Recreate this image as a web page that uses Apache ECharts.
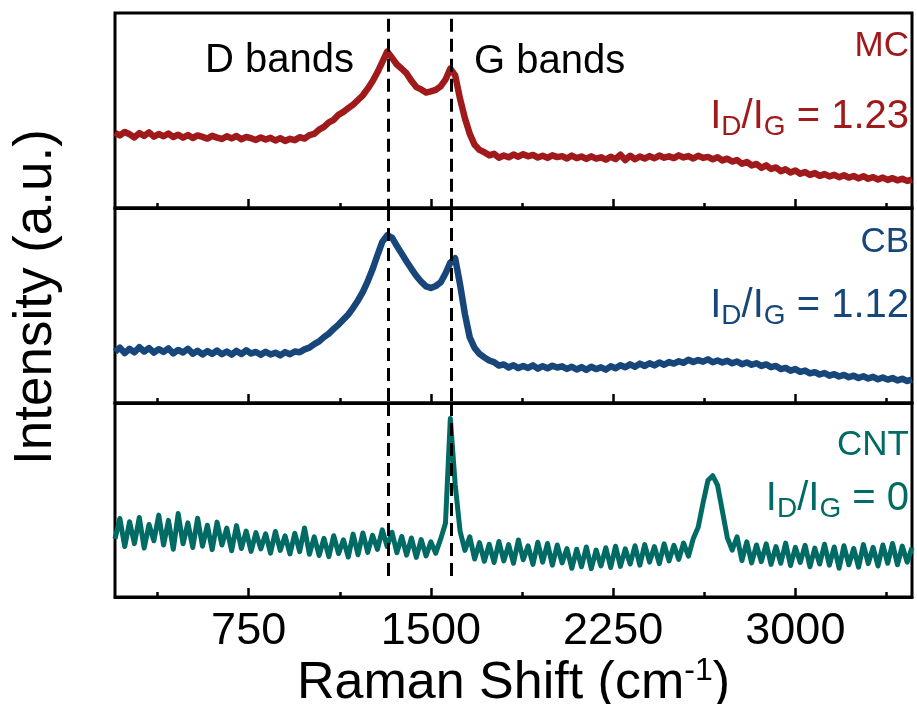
<!DOCTYPE html>
<html><head><meta charset="utf-8">
<script src="https://cdn.jsdelivr.net/npm/echarts@6/dist/echarts.min.js"></script>
<style>html,body{margin:0;padding:0;background:#fff}#c{width:917px;height:704px}</style>
</head><body><div id="c"></div>
<script>
// Raman shift sampling (cm-1)
const shift = [
 200,220,240,260,280,300,320,340,360,380,
 400,420,440,460,480,500,520,540,560,580,
 600,620,640,660,680,700,720,740,760,780,
 800,820,840,860,880,900,920,940,960,980,
 1000,1020,1040,1060,1080,1100,1120,1140,1160,1180,
 1200,1220,1240,1260,1280,1300,1320,1340,1360,1380,
 1400,1420,1440,1460,1480,1500,1520,1540,1560,1580,
 1600,1620,1640,1660,1680,1700,1720,1740,1760,1780,
 1800,1820,1840,1860,1880,1900,1920,1940,1960,1980,
 2000,2020,2040,2060,2080,2100,2120,2140,2160,2180,
 2200,2220,2240,2260,2280,2300,2320,2340,2360,2380,
 2400,2420,2440,2460,2480,2500,2520,2540,2560,2580,
 2600,2620,2640,2660,2680,2700,2720,2740,2760,2780,
 2800,2820,2840,2860,2880,2900,2920,2940,2960,2980,
 3000,3020,3040,3060,3080,3100,3120,3140,3160,3180,
 3200,3220,3240,3260,3280,3300,3320,3340,3360,3380,
 3400,3420,3440,3460,3480
];
// Intensities (a.u.), each panel scaled 0..100
const mc = [
 38.5,37.2,39.0,37.8,36.2,38.4,37.0,38.8,36.6,37.9,
 36.8,38.2,36.4,37.6,36.1,37.4,35.9,37.2,36.5,35.6,
 37.0,36.1,35.4,36.8,35.7,36.9,35.3,36.4,35.8,34.9,
 36.2,35.1,36.0,34.6,35.8,34.4,35.5,34.8,36.3,35.6,
 37.4,38.0,40.2,41.6,43.9,45.2,47.8,49.3,51.2,53.0,
 55.4,57.8,61.2,65.0,69.6,74.8,80.2,77.0,73.6,71.4,
 69.0,65.2,62.0,60.8,59.2,59.8,60.6,62.4,65.8,71.5,
 68.0,56.0,46.0,38.0,32.4,29.8,28.6,27.0,27.8,25.8,
 26.9,26.0,27.4,26.3,27.6,26.5,27.2,25.9,26.8,25.7,
 27.0,26.1,26.6,25.4,26.9,25.6,26.4,25.2,26.5,25.3,
 26.0,24.8,26.3,25.1,27.3,24.6,26.8,25.0,26.4,25.4,
 26.6,25.5,26.9,25.8,26.5,25.6,27.0,25.9,26.6,25.4,
 26.8,25.7,26.2,25.0,26.0,24.4,25.3,23.8,24.6,22.7,
 23.6,21.8,22.6,20.6,21.9,20.0,20.8,18.9,19.8,18.2,
 19.2,17.6,18.4,17.0,17.9,16.5,17.4,16.2,17.0,15.8,
 16.8,15.6,16.4,15.2,16.3,15.0,15.8,14.6,15.6,14.4,
 15.3,14.2,15.0,13.9,14.6
];
const cb = [
 26.3,28.4,25.6,27.8,26.0,28.6,26.4,28.2,25.8,27.6,
 26.2,28.0,25.4,27.2,25.9,27.8,25.3,26.8,24.9,26.6,
 25.2,26.9,25.0,26.4,24.8,26.7,25.1,27.0,25.4,26.2,
 24.7,26.3,24.9,25.8,24.4,26.1,25.0,26.4,26.0,27.5,
 28.4,30.2,31.6,33.8,35.6,38.0,40.2,42.8,45.4,48.8,
 52.6,57.0,62.4,68.6,75.8,82.6,86.0,84.8,80.6,76.6,
 72.6,68.8,65.2,62.2,59.8,59.0,60.0,61.8,66.4,72.0,
 74.2,60.8,45.6,33.6,28.2,25.2,23.4,21.8,21.0,19.2,
 19.8,18.2,19.4,17.9,19.0,18.0,19.3,17.6,18.9,17.8,
 19.1,18.2,18.8,17.5,18.6,17.2,18.4,17.0,18.6,17.4,
 18.3,17.1,18.8,17.8,19.4,18.3,19.8,18.6,20.2,19.0,
 20.4,19.3,20.8,19.6,21.0,20.2,21.4,20.6,22.2,21.0,
 22.0,21.2,22.4,20.9,21.8,20.8,21.6,20.4,21.3,19.9,
 20.8,19.6,20.4,19.0,19.8,18.4,19.0,17.4,18.0,16.6,
 17.4,16.0,16.6,15.2,15.8,14.6,15.4,14.0,14.8,13.6,
 14.4,13.2,14.0,12.8,13.7,12.6,13.4,12.2,13.1,12.0,
 12.8,11.6,12.4,11.3,12.0
];
const cnt = [
 30.0,40.5,26.0,38.8,27.5,41.0,25.2,37.4,29.0,42.2,
 26.8,39.5,24.6,43.0,27.4,38.2,25.5,40.6,26.2,37.0,
 24.4,38.6,26.8,35.5,23.8,36.8,25.0,34.0,23.5,33.2,
 24.8,32.6,22.6,33.8,24.0,31.5,22.2,32.8,23.4,35.6,
 22.0,31.0,21.4,30.2,20.8,31.6,22.4,29.5,20.6,32.4,
 21.8,33.0,23.0,31.8,24.5,34.6,26.0,33.4,22.8,31.2,
 21.6,30.4,20.4,29.6,21.2,28.4,22.6,29.8,38.0,92.0,
 58.0,34.0,24.0,31.0,19.6,28.0,18.4,27.2,17.8,28.6,
 18.6,27.0,17.4,29.4,19.2,26.4,16.8,28.2,18.0,27.6,
 16.4,26.8,17.6,25.0,14.8,24.6,15.6,25.8,14.6,24.2,
 16.0,25.4,15.2,26.2,15.8,24.8,17.0,26.4,16.4,27.0,
 18.0,26.0,17.2,27.4,18.6,26.6,19.4,27.8,21.0,30.2,
 36.0,48.5,60.0,62.5,57.5,44.0,30.5,24.2,31.0,18.8,
 28.4,17.6,26.8,18.2,27.4,16.8,26.0,17.4,27.8,16.2,
 25.6,17.8,26.6,15.6,25.2,17.0,27.2,16.4,25.8,14.8,
 26.4,16.6,25.0,15.4,27.0,17.2,25.6,16.0,26.8,17.4,
 27.6,16.6,26.2,18.0,25.4
];
const bandPositions = [1325, 1585];   // D and G band guide lines
const majorTicks = [750, 1500, 2250, 3000];
const minorTicks = [375, 1125, 1875, 2625, 3375];
const sampleNames = ['MC', 'CB', 'CNT'];
const ratios = ['1.23', '1.12', '0'];
const colors = ['#a0191b', '#17467a', '#006b64'];

const FONT = '"Liberation Sans", Arial, Helvetica, sans-serif';
const series = [mc, cb, cnt];
const tops = [13, 208, 403];
const heights = [195, 195, 194];
const guideSpan = [[97, 0], [100, 0], [100, 9]];
const widths = [6.5, 6.5, 5];

const grids = [], xAxes = [], yAxes = [], seriesOpt = [];
for (let i = 0; i < 3; i++) {
  grids.push({left: 115, top: tops[i], width: 797, height: heights[i], show: true,
    outerBoundsMode: 'none', containLabel: false,
    borderColor: '#000', borderWidth: 3, backgroundColor: 'transparent'});
  xAxes.push({
    type: 'value', gridIndex: i, min: 200, max: 3480, position: 'bottom',
    axisLine: {show: true, onZero: false, lineStyle: {color: '#000', width: 3}},
    axisTick: {show: true, inside: true, length: 9, lineStyle: {color: '#000', width: 2.5}, customValues: majorTicks},
    axisLabel: {show: i === 2, customValues: majorTicks, fontSize: 45, color: '#000', margin: 12,
      fontFamily: FONT, formatter: v => String(v)},
    splitLine: {show: false},
    name: i === 2 ? '{a|Raman Shift (cm}{s|-1}{a|)}' : '',
    nameLocation: 'middle', nameGap: 49,
    nameTextStyle: {rich: {
      a: {fontSize: 52, lineHeight: 58, color: '#000', fontFamily: FONT},
      s: {fontSize: 32, lineHeight: 40, verticalAlign: 'top', color: '#000', fontFamily: FONT}
    }}
  });
  xAxes.push({
    type: 'value', gridIndex: i, min: 200, max: 3480, position: 'bottom',
    axisLine: {show: false, onZero: false},
    axisTick: {show: true, inside: true, length: 5, lineStyle: {color: '#000', width: 2.5}, customValues: minorTicks},
    axisLabel: {show: false}, splitLine: {show: false}
  });
  yAxes.push({type: 'value', gridIndex: i, min: 0, max: 100, show: false});
  const vals = series[i];
  seriesOpt.push({
    type: 'line', xAxisIndex: 2 * i, yAxisIndex: i, showSymbol: false, silent: true,
    data: shift.map((x, k) => [x, vals[k]]),
    lineStyle: {color: colors[i], width: widths[i], join: 'round'}, itemStyle: {color: colors[i]},
    markLine: {
      silent: true, symbol: ['none', 'none'], label: {show: false},
      lineStyle: {color: '#000', type: [13, 7], width: 3},
      data: bandPositions.map(b => [{coord: [b, guideSpan[i][0]]}, {coord: [b, guideSpan[i][1]]}])
    }
  });
}

const nameY = [46, 242, 445];
const ratioY = [117, 306, 499];
const graphics = [];
for (let i = 0; i < 3; i++) {
  graphics.push({type: 'text', x: 909, y: nameY[i], style: {
    text: sampleNames[i], font: '35px ' + FONT, fill: colors[i], align: 'right', verticalAlign: 'middle'}});
  graphics.push({type: 'text', x: 909, y: ratioY[i], style: {
    text: '{m|I}{s|D}{m|/I}{s|G}{m| = ' + ratios[i] + '}', align: 'right', verticalAlign: 'middle',
    rich: {
      m: {fontSize: 40, lineHeight: 48, fill: colors[i], fontFamily: FONT},
      s: {fontSize: 28, lineHeight: 28, verticalAlign: 'bottom', fill: colors[i], fontFamily: FONT}
    }}});
}
graphics.push({type: 'text', x: 205, y: 61, style: {text: 'D bands', font: '40px ' + FONT, fill: '#000', align: 'left', verticalAlign: 'middle'}});
graphics.push({type: 'text', x: 474, y: 62, style: {text: 'G bands', font: '40px ' + FONT, fill: '#000', align: 'left', verticalAlign: 'middle'}});
graphics.push({type: 'text', x: 36, y: 297, rotation: Math.PI / 2, style: {text: 'Intensity (a.u.)', font: '53px ' + FONT, fill: '#000', align: 'center', verticalAlign: 'middle'}});

const chart = echarts.init(document.getElementById('c'), null, {renderer: 'canvas'});
chart.setOption({
  animation: false,
  grid: grids, xAxis: xAxes, yAxis: yAxes, series: seriesOpt, graphic: graphics
});
</script></body></html>
